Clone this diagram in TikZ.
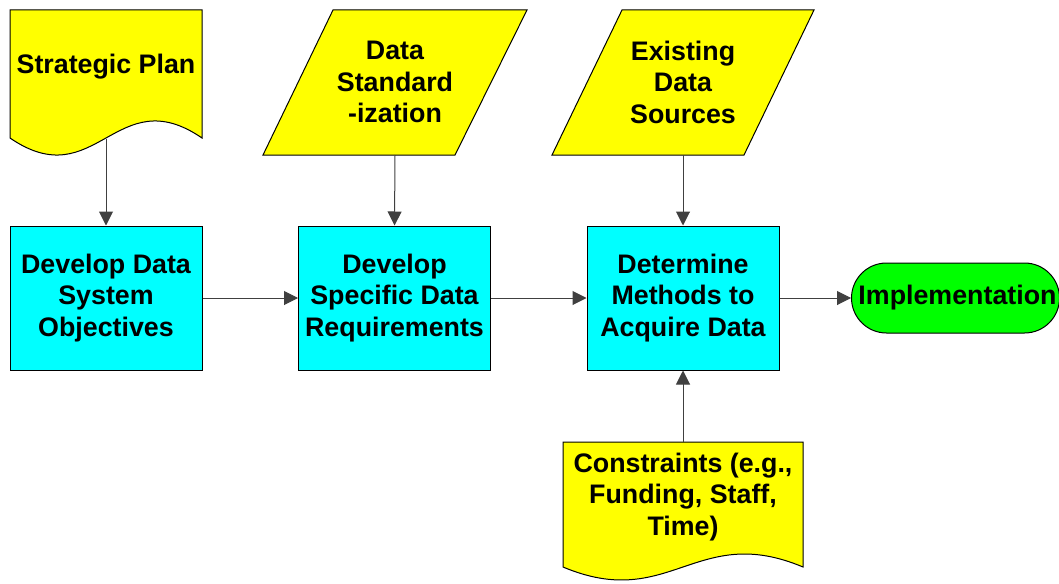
\documentclass[tikz,border=0pt]{standalone}
\usepackage{fontspec}
\setmainfont{Liberation Sans}
\usetikzlibrary{arrows.meta}
\definecolor{docyellow}{RGB}{255,255,0}
\definecolor{boxcyan}{RGB}{0,255,255}
\definecolor{implgreen}{RGB}{0,255,0}
\tikzset{
  shapeline/.style={draw=black, line width=1pt},
  txt/.style={align=center, font=\fontsize{26.8}{31.5}\selectfont\bfseries, inner sep=0pt},
  flow/.style={draw=black!75, line width=1pt, -{Triangle[length=14pt,width=14pt]}},
  procbox/.style={shapeline, fill=boxcyan, minimum width=192pt, minimum height=144pt, inner sep=0pt, align=center, font=\fontsize{26.8}{31.5}\selectfont\bfseries},
}
\begin{document}
\begin{tikzpicture}[x=1pt,y=1pt]
\useasboundingbox (0,0) rectangle (1059,-583);
% Strategic Plan document
\draw[shapeline, fill=docyellow] (10,-10) -- (202,-10) -- (202,-138)
  .. controls (116,-79) and (96,-197) .. (10,-138) -- cycle;
\node[txt] (sp) at (106,-67) {Strategic Plan};
\coordinate (spb) at (106,-139);
% Data Standardization parallelogram
\draw[shapeline, fill=docyellow] (333,-10) -- (527,-10) -- (455,-155) -- (263,-155) -- cycle;
\node[txt] (ds) at (395,-82) {Data\\Standard\\-ization};
\coordinate (dsb) at (395,-155);
% Existing Data Sources parallelogram
\draw[shapeline, fill=docyellow] (622,-10) -- (814,-10) -- (744,-155) -- (552,-155) -- cycle;
\node[txt] (eds) at (683,-82) {Existing\\Data\\Sources};
\coordinate (edsb) at (683,-155);
% Constraints document
\draw[shapeline, fill=docyellow] (563,-442) -- (803,-442) -- (803,-567)
  .. controls (696,-522) and (670,-612) .. (563,-567) -- cycle;
\node[txt] (con) at (683,-497) {Constraints (e.g.,\\Funding, Staff,\\Time)};
\coordinate (cont) at (683,-442);
% Process boxes
\node[procbox] (b1) at (106,-298) {Develop Data\\System\\Objectives};
\node[procbox] (b2) at (394.5,-298) {Develop\\Specific Data\\Requirements};
\node[procbox] (b3) at (683,-298) {Determine\\Methods to\\Acquire Data};
% Implementation terminal
\node[shapeline, fill=implgreen, rounded corners=35pt, minimum width=208pt, minimum height=70pt, inner sep=0pt, anchor=west, font=\fontsize{26.8}{31.5}\selectfont\bfseries] (impl) at (851,-298) {\hspace*{4pt}Implementation};
% Connectors
\draw[flow] (spb) -- (b1.north);
\draw[flow] (dsb) -- (b2.north);
\draw[flow] (edsb) -- (b3.north);
\draw[flow] (cont) -- (b3.south);
\draw[flow] (b1.east) -- (b2.west);
\draw[flow] (b2.east) -- (b3.west);
\draw[flow] (b3.east) -- (impl.west);
\end{tikzpicture}
\end{document}
